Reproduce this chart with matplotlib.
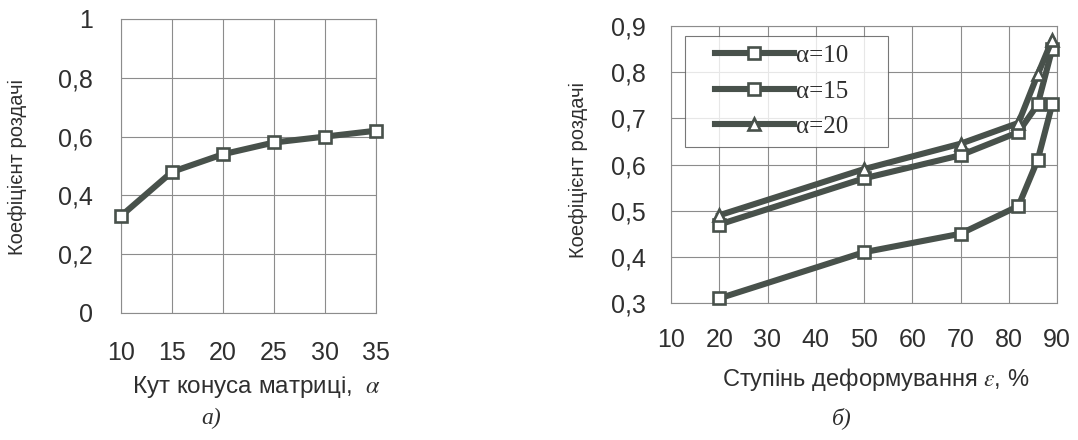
import matplotlib
matplotlib.use("Agg")
import matplotlib.pyplot as plt
from matplotlib.lines import Line2D
from matplotlib.legend_handler import HandlerLine2D
from matplotlib.ticker import FuncFormatter

# ---------------------------------------------------------------------------
# Data
# ---------------------------------------------------------------------------

ANGLE = [10, 15, 20, 25, 30, 35]
K_ANGLE = [0.33, 0.48, 0.54, 0.58, 0.60, 0.62]

STRAIN = [20, 50, 70, 82, 86, 89]
K_A10 = [0.31, 0.41, 0.45, 0.51, 0.61, 0.73]
K_A15 = [0.47, 0.57, 0.62, 0.67, 0.73, 0.85]
K_A20 = [0.49, 0.59, 0.645, 0.69, 0.795, 0.87]

SERIES = [("α=10", K_A10, "s"), ("α=15", K_A15, "s"), ("α=20", K_A20, "^")]

# ---------------------------------------------------------------------------
# Style
# ---------------------------------------------------------------------------

plt.rcParams.update({
    "font.family": "Liberation Sans",
    "mathtext.fontset": "stix",
})

LINE_C = "#48514b"
TEXT_C = "#2f2f2f"
GRID_C = "#8c8c8c"
LINE_KW = dict(color=LINE_C, linewidth=4.4, markersize=9,
               markerfacecolor="white", markeredgecolor=LINE_C,
               markeredgewidth=1.9, clip_on=False, zorder=3)


def comma(v, _):
    s = f"{v:.1f}".replace(".", ",")
    if s.endswith(",0"):
        s = s[:-2]
    return s


def style_axes(ax, xpad, ypad):
    ax.grid(True, color=GRID_C, linewidth=0.8)
    ax.set_axisbelow(True)
    for sp in ax.spines.values():
        sp.set_color(GRID_C)
        sp.set_linewidth(0.8)
    ax.tick_params(length=0, labelsize=18, labelcolor=TEXT_C)
    ax.tick_params(axis="x", pad=xpad)
    ax.tick_params(axis="y", pad=ypad)
    ax.yaxis.set_major_formatter(FuncFormatter(comma))


fig = plt.figure(figsize=(10.78, 4.4), dpi=100)

# ---------------------------------------------------------------------------
# a) coefficient vs cone angle
# ---------------------------------------------------------------------------

ax1 = fig.add_axes([121 / 1078, 1 - 313 / 440, 255 / 1078, 294 / 440])
ax1.plot(ANGLE, K_ANGLE, marker="s", **LINE_KW)
ax1.set_xlim(10, 35)
ax1.set_ylim(0, 1)
ax1.set_xticks(ANGLE)
ax1.set_yticks([0, 0.2, 0.4, 0.6, 0.8, 1.0])
style_axes(ax1, 20, 20)

fig.text(257 / 1078, 1 - 387 / 440, "Кут конуса матриці,  $\\alpha$",
         ha="center", va="center", fontsize=17.5, color=TEXT_C)
fig.text(17 / 1078, 1 - 167 / 440, "Коефіцієнт роздачі", rotation=90,
         ha="center", va="center", fontsize=14.5, color=TEXT_C)
fig.text(211 / 1078, 1 - 418 / 440, "а)", family="Liberation Serif",
         style="italic", ha="center", va="center", fontsize=17, color=TEXT_C)

# ---------------------------------------------------------------------------
# b) coefficient vs strain
# ---------------------------------------------------------------------------

ax2 = fig.add_axes([671 / 1078, 1 - 303 / 440, 386 / 1078, 277 / 440])
for label, vals, mk in SERIES:
    ax2.plot(STRAIN, vals, marker=mk, label=label + "     ", **LINE_KW)
ax2.set_xlim(10, 90)
ax2.set_ylim(0.3, 0.9)
ax2.set_xticks(range(10, 91, 10))
ax2.set_yticks([0.3, 0.4, 0.5, 0.6, 0.7, 0.8, 0.9])
style_axes(ax2, 18, 18)

leg = ax2.legend(loc="upper left", bbox_to_anchor=(0.036, 0.964),
                 borderaxespad=0, frameon=True, fancybox=False,
                 handlelength=4.0, handletextpad=0.1, labelspacing=0.52,
                 borderpad=0.35,
                 handler_map={Line2D: HandlerLine2D(xpad=0.85)},
                 prop={"family": "Liberation Serif", "size": 18})
leg.get_frame().set_edgecolor("#555555")
leg.get_frame().set_linewidth(0.8)
for t in leg.get_texts():
    t.set_color(TEXT_C)

fig.text(876 / 1078, 1 - 379 / 440, "Ступінь деформування $\\varepsilon$, %",
         ha="center", va="center", fontsize=17, color=TEXT_C)
fig.text(578 / 1078, 1 - 170 / 440, "Коефіцієнт роздачі", rotation=90,
         ha="center", va="center", fontsize=14.5, color=TEXT_C)
fig.text(842 / 1078, 1 - 418 / 440, "б)", family="Liberation Serif",
         style="italic", ha="center", va="center", fontsize=17, color=TEXT_C)

fig.savefig("out.png", dpi=100)
